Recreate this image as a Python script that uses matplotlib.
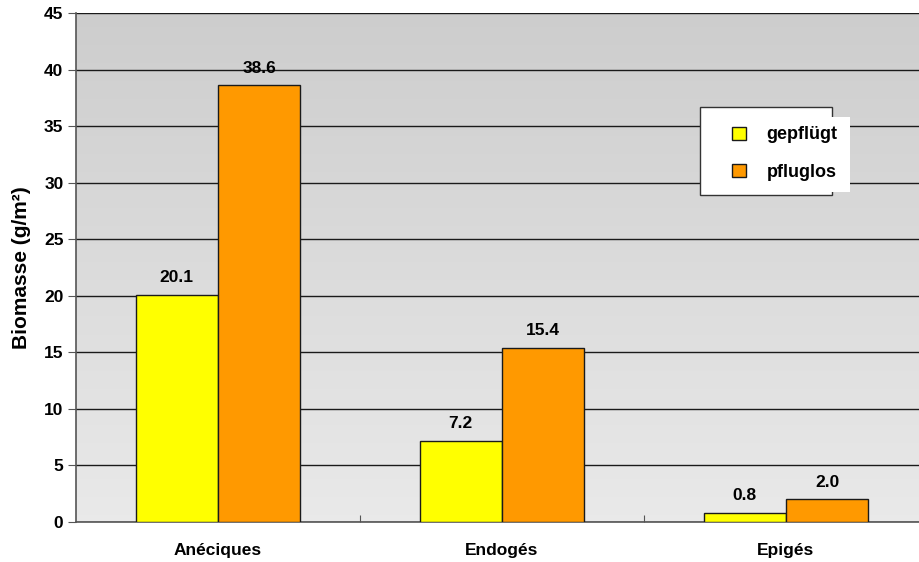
import matplotlib
matplotlib.use("Agg")
import matplotlib.pyplot as plt
import numpy as np
from matplotlib.patches import Patch, Rectangle

plt.rcParams['font.family'] = ['Liberation Sans', 'DejaVu Sans']
plt.rcParams['font.weight'] = 'bold'

categories = ["Anéciques", "Endogés", "Epigés"]
series_names = ["gepflügt", "pfluglos"]
gepfluegt = [20.1, 7.2, 0.8]
pfluglos = [38.6, 15.4, 2.0]
colors = ["#FFFF00", "#FF9900"]
yticks = [0, 5, 10, 15, 20, 25, 30, 35, 40, 45]

W, H = 919, 562
fig = plt.figure(figsize=(W / 100, H / 100), dpi=100)
ax = fig.add_axes([76 / W, 1 - 522 / H, (928 - 76) / W, (522 - 13) / H])

x = np.arange(len(categories))
bw = 0.29
edge = "#1a1a1a"
FS = 12.5
ax.bar(x - bw / 2, gepfluegt, bw, color=colors[0], edgecolor=edge, linewidth=1, zorder=3)
ax.bar(x + bw / 2, pfluglos, bw, color=colors[1], edgecolor=edge, linewidth=1, zorder=3)

for xi, v in zip(x, gepfluegt):
    ax.text(xi - bw / 2, v + 0.85, f"{v:.1f}", ha="center", va="bottom", fontsize=FS, fontweight="bold", zorder=4)
for xi, v in zip(x, pfluglos):
    ax.text(xi + bw / 2, v + 0.85, f"{v:.1f}", ha="center", va="bottom", fontsize=FS, fontweight="bold", zorder=4)

# gradient background (darker at top)
grad = np.linspace(0, 1, 256).reshape(-1, 1)
top = np.array([0.805, 0.805, 0.805])
bot = np.array([0.915, 0.915, 0.915])
img = top[None, None, :] * (1 - grad[:, :, None]) + bot[None, None, :] * grad[:, :, None]
ax.imshow(img, extent=(-0.5, len(categories) - 0.5, 0, 45), aspect="auto", zorder=0, origin="upper")
ax.set_xlim(-0.5, len(categories) - 0.5)
ax.set_ylim(0, 45)

ax.set_yticks(yticks)
ax.set_yticklabels([str(t) for t in yticks], fontsize=FS, fontweight="bold")
ax.yaxis.grid(True, color="#1a1a1a", linewidth=1, zorder=1)
ax.set_axisbelow(True)

ax.set_xticks([0.5, 1.5])
ax.set_xticklabels([])
ax.set_xticks(x, minor=True)
ax.set_xticklabels(categories, minor=True, fontsize=FS, fontweight="bold")
ax.tick_params(axis="x", which="minor", length=0, pad=15)
ax.tick_params(axis="x", which="major", length=5, color="#555555", direction="in")
ax.tick_params(axis="y", length=6, color="#555555", direction="out", pad=3)

for s in ["top", "right"]:
    ax.spines[s].set_visible(False)
ax.spines["left"].set_color("#555555")
ax.spines["bottom"].set_color("#555555")
ax.spines["left"].set_linewidth(1.2)
ax.spines["bottom"].set_linewidth(1.2)

ax.set_ylabel("Biomasse (g/m²)", fontsize=15, fontweight="bold", labelpad=9)

# legend frame (as in reference: bordered box with white extension on the right)
fig.patches.append(Rectangle((700 / W, 1 - 195 / H), 132 / W, 88 / H, transform=fig.transFigure,
                             facecolor="white", edgecolor="#333333", linewidth=1, zorder=4))
fig.patches.append(Rectangle((831 / W, 1 - 192 / H), 19 / W, 75 / H, transform=fig.transFigure,
                             facecolor="white", edgecolor="none", linewidth=0, zorder=4.1))

handles = [Patch(facecolor=c, edgecolor=edge, linewidth=1) for c in colors]
leg = fig.legend(handles, series_names, loc="upper left",
                 bbox_to_anchor=(727 / W, 1 - 121 / H), frameon=False,
                 handlelength=0.75, handleheight=0.75, handletextpad=1.15,
                 labelspacing=1.15, borderpad=0.3, borderaxespad=0,
                 prop={"size": FS + 0.5, "weight": "bold"})
leg.set_zorder(5)

fig.savefig("out.png", dpi=100)
